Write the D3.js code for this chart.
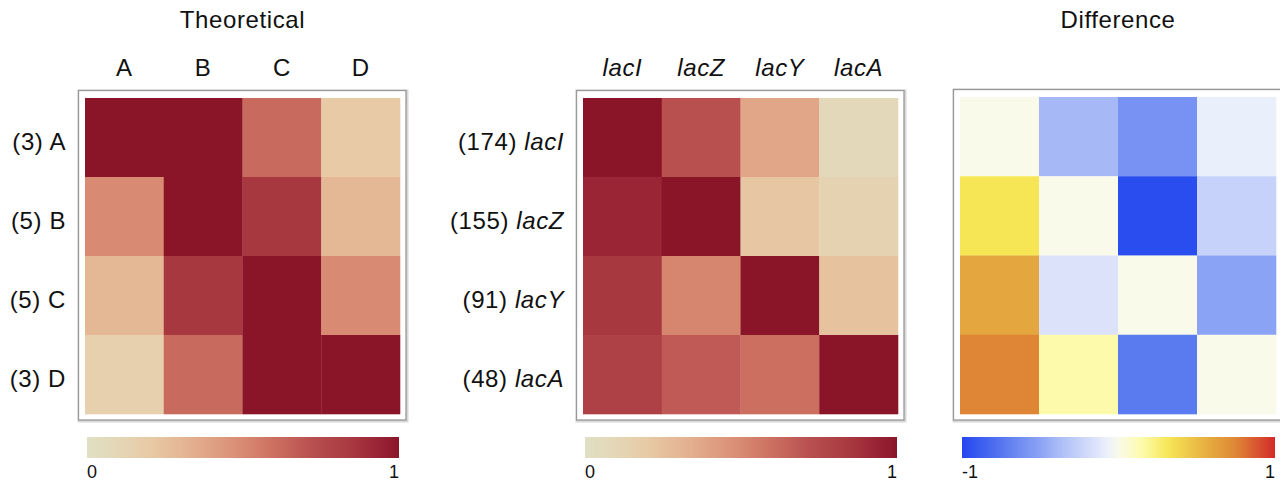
<!DOCTYPE html>
<html>
<head>
<meta charset="utf-8">
<script src="https://cdn.jsdelivr.net/npm/d3@7"></script>
<style>
  html, body { margin: 0; padding: 0; background: #fff; }
  svg { display: block; font-family: "Liberation Sans", Arial, sans-serif; }
</style>
</head>
<body>
<svg id="chart" width="1280" height="484"></svg>
<script>
// Categories
const theoCols = ["A", "B", "C", "D"];
const theoRows = ["A", "B", "C", "D"];
const theoCounts = [3, 5, 5, 3];
const geneCols = ["lacI", "lacZ", "lacY", "lacA"];
const geneRows = ["lacI", "lacZ", "lacY", "lacA"];
const geneCounts = [174, 155, 91, 48];

// Matrix values (row-major)
const theoretical = [
  [1.00, 1.00, 0.62, 0.20],
  [0.50, 1.00, 0.85, 0.30],
  [0.30, 0.85, 1.00, 0.50],
  [0.15, 0.62, 1.00, 1.00]
];
const observed = [
  [1.00, 0.72, 0.38, 0.08],
  [0.93, 1.00, 0.22, 0.13],
  [0.85, 0.52, 1.00, 0.24],
  [0.80, 0.68, 0.60, 1.00]
];
const difference = [
  [0.00, -0.40, -0.60, -0.08],
  [0.32, 0.00, -0.97, -0.25],
  [0.60, -0.15, 0.00, -0.50],
  [0.75, 0.15, -0.73, 0.00]
];

// Colour bar tick labels
const seqTicks = ["0", "1"];
const divTicks = ["-1", "1"];

// Colour ramps
const seqStops = [0, 0.1, 0.2, 0.35, 0.5, 0.62, 0.72, 0.85, 0.93, 1];
const seqColors = ["#e0dfc4", "#e4d6b6", "#e8caa6", "#e2ad8c", "#d88a72", "#c96a5e", "#b85050", "#a83840", "#9a2535", "#8a1529"];
const divStops = [-1, -0.73, -0.6, -0.5, -0.4, -0.25, -0.15, -0.08, 0, 0.15, 0.32, 0.6, 0.75, 1];
const divColors = ["#2447ef", "#5a7af0", "#7792f2", "#8ba3f5", "#a6b8f5", "#c6d2fa", "#dbe2fa", "#eaeffc", "#fafaea", "#fdfbab", "#f6e655", "#e4a63e", "#df8636", "#d42a2a"];

const seqScale = d3.scaleLinear().domain(seqStops).range(seqColors).interpolate(d3.interpolateRgb).clamp(true);
const divScale = d3.scaleLinear().domain(divStops).range(divColors).interpolate(d3.interpolateRgb).clamp(true);

const svg = d3.select("#chart");
const defs = svg.append("defs");

const fontSize = 24;
const spacing = 0.6;
const cellBottom = 414;

function panel(opts) {
  const { x0, x1, top, cols, rows, values, color, title, italic, counts, ticks, domain, id } = opts;
  const g = svg.append("g");

  const xs = d3.scaleBand().domain(d3.range(cols.length)).range([x0, x1]);
  const ys = d3.scaleBand().domain(d3.range(rows.length)).range([top, cellBottom]);

  // frame with a soft edge
  g.append("rect")
    .attr("x", x0 - 6).attr("y", top - 7)
    .attr("width", (x1 - x0) + 13).attr("height", (cellBottom - top) + 14)
    .attr("fill", "none").attr("stroke", "#d8d8d8").attr("stroke-width", 3);
  g.append("rect")
    .attr("x", x0 - 6.5).attr("y", top - 7.5)
    .attr("width", (x1 - x0) + 12.5).attr("height", (cellBottom - top) + 13.5)
    .attr("fill", "#fff").attr("stroke", "#999").attr("stroke-width", 1.3);

  // cells
  const cells = [];
  values.forEach((row, i) => row.forEach((v, j) => cells.push({ i, j, v })));
  g.selectAll("rect.cell").data(cells).enter().append("rect")
    .attr("class", "cell")
    .attr("x", d => xs(d.j)).attr("y", d => ys(d.i))
    .attr("width", xs.bandwidth() + 0.3).attr("height", ys.bandwidth() + 0.3)
    .attr("fill", d => color(d.v));

  // title
  if (title) {
    g.append("text").attr("x", (x0 + x1) / 2).attr("y", 28)
      .attr("text-anchor", "middle").attr("font-size", fontSize)
      .attr("letter-spacing", spacing).attr("fill", "#111").text(title);
  }

  // column labels
  g.selectAll("text.col").data(opts.showCols ? cols : []).enter().append("text")
    .attr("class", "col")
    .attr("x", (d, j) => xs(j) + xs.bandwidth() / 2).attr("y", 76)
    .attr("text-anchor", "middle").attr("font-size", fontSize)
    .attr("letter-spacing", spacing)
    .attr("font-style", italic ? "italic" : "normal")
    .attr("fill", "#111").text(d => d);

  // row labels
  if (counts) {
    const rl = g.selectAll("text.row").data(rows).enter().append("text")
      .attr("class", "row")
      .attr("x", x0 - 19).attr("y", (d, i) => ys(i) + ys.bandwidth() / 2 + 12.5)
      .attr("text-anchor", "end").attr("font-size", fontSize)
      .attr("letter-spacing", spacing).attr("fill", "#111");
    rl.append("tspan").text((d, i) => "(" + counts[i] + ") ");
    rl.append("tspan").attr("font-style", italic ? "italic" : "normal").text(d => d);
  }

  // colour bar
  const bx0 = x0 + 2, bx1 = x1 - 1;
  const grad = defs.append("linearGradient").attr("id", id)
    .attr("x1", "0%").attr("x2", "100%").attr("y1", "0%").attr("y2", "0%");
  const n = 60;
  d3.range(n + 1).forEach(k => {
    const t = k / n;
    grad.append("stop").attr("offset", (t * 100) + "%")
      .attr("stop-color", color(domain[0] + t * (domain[1] - domain[0])));
  });
  g.append("rect").attr("x", bx0).attr("y", 437).attr("width", bx1 - bx0).attr("height", 21)
    .attr("fill", `url(#${id})`);
  g.append("text").attr("x", bx0).attr("y", 478).attr("font-size", 18)
    .attr("text-anchor", "start").attr("fill", "#111").text(ticks[0]);
  g.append("text").attr("x", bx1).attr("y", 478).attr("font-size", 18)
    .attr("text-anchor", "end").attr("fill", "#111").text(ticks[1]);
}

panel({ id: "g1", x0: 85, x1: 400, top: 98, cols: theoCols, rows: theoRows, values: theoretical,
  color: seqScale, title: "Theoretical", italic: false, counts: theoCounts, ticks: seqTicks, domain: [0, 1], showCols: true });
panel({ id: "g2", x0: 583, x1: 898, top: 98, cols: geneCols, rows: geneRows, values: observed,
  color: seqScale, title: null, italic: true, counts: geneCounts, ticks: seqTicks, domain: [0, 1], showCols: true });
panel({ id: "g3", x0: 960, x1: 1276, top: 97, cols: theoCols, rows: theoRows, values: difference,
  color: divScale, title: "Difference", italic: false, counts: null, ticks: divTicks, domain: [-1, 1], showCols: false });
</script>
</body>
</html>
